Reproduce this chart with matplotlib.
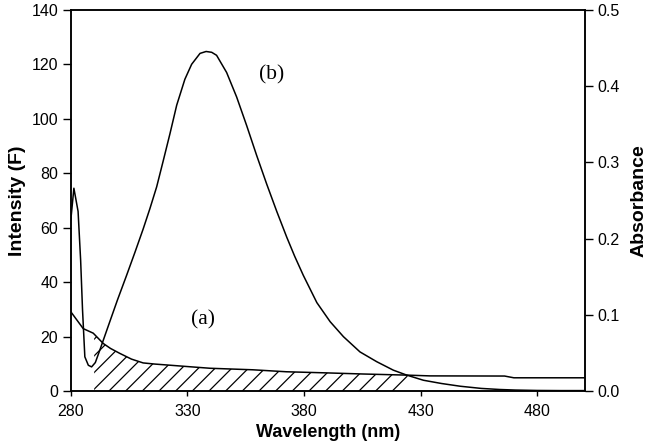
import matplotlib
matplotlib.use("Agg")
import matplotlib.pyplot as plt
import numpy as np

# (b) fluorescence emission, intensity (left axis)
wl_b = [280, 281.3, 283.1, 284.2, 285, 286, 287.5, 288.9, 290.5, 292.4, 296.7, 300, 303.9,
        307.5, 311, 313.9, 316.8, 319.6, 322.5, 325.4, 328.9, 331.8, 335.4, 338, 340.4,
        342.5, 346.8, 351.1, 355.4, 359.7, 364, 368.3, 372.6, 376, 379.7, 385.5, 391.2,
        396.9, 404, 411.2, 418.3, 424, 431.2, 439, 447, 456, 464, 470.6, 480, 490, 500]
intensity_b = [63, 74.5, 66, 48, 30, 12.6, 9.5, 8.9, 10.5, 15, 25.5, 33.5, 42.5,
               51, 59.5, 67, 75, 84.5, 94.5, 105, 114.5, 120, 124, 124.7, 124.4,
               123.3, 117, 108, 97.5, 86.5, 76, 66, 56.5, 49.5, 42.5, 32.5, 25.5,
               20, 14.4, 10.8, 7.7, 5.9, 4.0, 2.8, 1.8, 1.0, 0.6, 0.4, 0.25, 0.2, 0.2]

# (a) absorption spectrum, absorbance (right axis)
wl_a = [280, 285.3, 289.6, 293.9, 297, 301, 306, 311, 316, 322.5, 331, 339.7, 358,
        372.5, 389, 405, 424.2, 434, 466, 470, 500]
absorb_a = [0.104, 0.082, 0.076, 0.0625, 0.056, 0.0495, 0.042, 0.037, 0.0355, 0.034,
            0.032, 0.030, 0.028, 0.0254, 0.024, 0.0225, 0.021, 0.0200, 0.0198, 0.0175, 0.0175]

# overlap region (hatched)
overlap_start, overlap_end = 290, 424.5

plt.rcParams['font.family'] = ['Liberation Sans', 'DejaVu Sans']
plt.rcParams['hatch.linewidth'] = 0.9

fig = plt.figure(figsize=(6.5, 4.46), dpi=100)
ax = fig.add_axes([0.109, 0.123, 0.791, 0.855])
ax2 = ax.twinx()

ax.plot(wl_b, intensity_b, color='black', lw=1.1)
ax2.plot(wl_a, absorb_a, color='black', lw=1.1)

xs = np.linspace(overlap_start, overlap_end, 300)
ax2.fill_between(xs, 0, np.interp(xs, wl_a, absorb_a), facecolor='none',
                 edgecolor='black', hatch='//', linewidth=0)

ax.set_xlim(280, 500.5)
ax.set_ylim(0, 140)
ax2.set_ylim(0, 0.5)
ax.set_xticks([280, 330, 380, 430, 480])
ax.set_yticks(np.arange(0, 141, 20))
ax2.set_yticks([0, 0.1, 0.2, 0.3, 0.4, 0.5])
ax2.set_yticklabels(['0.0', '0.1', '0.2', '0.3', '0.4', '0.5'])

ax.tick_params(axis='y', direction='out', length=6, width=1, labelsize=11.5, pad=3)
ax.tick_params(axis='x', direction='out', length=3.5, width=1, labelsize=11.5, pad=6)
ax2.tick_params(axis='y', direction='out', length=6, width=1, labelsize=11.5, pad=3)
for a in (ax, ax2):
    for s in a.spines.values():
        s.set_linewidth(1.1)

ax.set_xlabel('Wavelength (nm)', fontsize=13, fontweight='bold', labelpad=3)
ax.set_ylabel('Intensity (F)', fontsize=14, fontweight='bold', labelpad=4)
ax2.set_ylabel('Absorbance', fontsize=14, fontweight='bold', labelpad=8)

ax.text(366, 116, '(b)', fontsize=15.5, family='Liberation Serif', ha='center', va='center')
ax.text(336.7, 26, '(a)', fontsize=15.5, family='Liberation Serif', ha='center', va='center')

fig.savefig('out.png', dpi=100)
